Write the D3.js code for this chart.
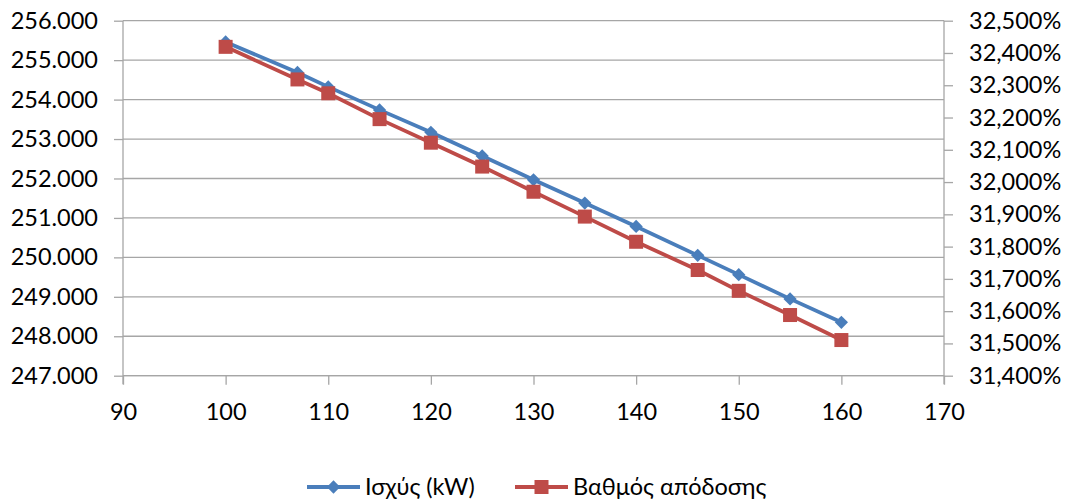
<!DOCTYPE html>
<html>
<head>
<meta charset="utf-8">
<script src="https://cdn.jsdelivr.net/npm/d3@7"></script>
<style>
  html, body { margin: 0; padding: 0; background: #fff; }
  svg { display: block; }
  text { font-family: Lato, "Open Sans", sans-serif; fill: #000; }
</style>
</head>
<body>
<svg id="chart" width="1069" height="501"></svg>
<script>
// Load (x axis), power output in kW (left axis), efficiency in % (right axis)
const loads = [100, 107, 110, 115, 120, 125, 130, 135, 140, 146, 150, 155, 160];
const power = [255461, 254689, 254322, 253739, 253170, 252570, 251967, 251377, 250785, 250051, 249562, 248947, 248354];
const efficiency = [32.419, 32.318, 32.275, 32.195, 32.122, 32.048, 31.970, 31.893, 31.815, 31.7275, 31.663, 31.588, 31.5105];

const xTicks = [90, 100, 110, 120, 130, 140, 150, 160, 170];
const powerTicks = [247000, 248000, 249000, 250000, 251000, 252000, 253000, 254000, 255000, 256000];
const effTicks = [31.4, 31.5, 31.6, 31.7, 31.8, 31.9, 32.0, 32.1, 32.2, 32.3, 32.4, 32.5];

const seriesNames = ["Ισχύς (kW)", "Βαθμός απόδοσης"];
const colors = ["#4A7EBB", "#BE4B48"];

// Greek number conventions: "." groups thousands, "," marks decimals
const locale = d3.formatLocale({ decimal: ",", thousands: ".", grouping: [3], currency: ["€", ""] });
const fmtPower = locale.format(",.0f");
const fmtEff = locale.format(".3f");

const svg = d3.select("#chart");
const plotLeft = 123, plotRight = 944, plotTop = 20.7, plotBottom = 375.7;
const fontSize = 23.5;

const x = d3.scaleLinear().domain([90, 170]).range([plotLeft, plotRight]);
const yL = d3.scaleLinear().domain([247000, 256000]).range([plotBottom, plotTop]);
const yR = d3.scaleLinear().domain([31.4, 32.5]).range([plotBottom, plotTop]);

const gridColor = "#A6A6A6";

// horizontal gridlines
svg.append("g")
  .selectAll("line")
  .data(powerTicks)
  .join("line")
  .attr("x1", plotLeft).attr("x2", plotRight)
  .attr("y1", d => yL(d)).attr("y2", d => yL(d))
  .attr("stroke", gridColor).attr("stroke-width", 1.3);

// left axis
const axL = svg.append("g")
  .attr("transform", `translate(${plotLeft},0)`)
  .call(d3.axisLeft(yL).tickValues(powerTicks).tickSize(9).tickPadding(16).tickFormat(fmtPower));
// bottom axis
const axB = svg.append("g")
  .attr("transform", `translate(0,${plotBottom})`)
  .call(d3.axisBottom(x).tickValues(xTicks).tickSize(9).tickPadding(19).tickFormat(d3.format("d")));
// right axis
const axR = svg.append("g")
  .attr("transform", `translate(${plotRight},0)`)
  .call(d3.axisRight(yR).tickValues(effTicks).tickSize(9).tickPadding(16).tickFormat(d => fmtEff(d) + "%"));

[axL, axB, axR].forEach(g => {
  g.select(".domain").attr("stroke", gridColor).attr("stroke-width", 1.3);
  g.selectAll(".tick line").attr("stroke", gridColor).attr("stroke-width", 1.3);
  g.selectAll(".tick text").attr("font-size", fontSize).attr("font-family", "Lato, 'Open Sans', sans-serif").attr("fill", "#000");
});
axL.select(".domain").attr("d", `M0,${plotTop}V${plotBottom + 8.5}`);
axR.select(".domain").attr("d", `M0,${plotTop}V${plotBottom + 8.5}`);
axB.select(".domain").attr("d", `M${plotLeft},0H${plotRight}`);

// diamond marker: a square turned 45 degrees
const diamond = d3.symbol(d3.symbolSquare, 88)();

// series lines
const linePower = d3.line().x((d, i) => x(loads[i])).y(d => yL(d));
const lineEff = d3.line().x((d, i) => x(loads[i])).y(d => yR(d));

svg.append("path").datum(power).attr("d", linePower)
  .attr("fill", "none").attr("stroke", colors[0]).attr("stroke-width", 3.8).attr("stroke-linejoin", "round");
svg.append("g").selectAll("path").data(power).join("path")
  .attr("d", diamond)
  .attr("transform", (d, i) => `translate(${x(loads[i])},${yL(d)}) rotate(45)`)
  .attr("fill", colors[0]);

svg.append("path").datum(efficiency).attr("d", lineEff)
  .attr("fill", "none").attr("stroke", colors[1]).attr("stroke-width", 3.8).attr("stroke-linejoin", "round");
svg.append("g").selectAll("rect").data(efficiency).join("rect")
  .attr("x", (d, i) => x(loads[i]) - 7).attr("y", d => yR(d) - 7)
  .attr("width", 14).attr("height", 14)
  .attr("fill", colors[1]);

// legend
const legend = svg.append("g").attr("transform", "translate(0,487)");
const legendItems = [
  { name: seriesNames[0], color: colors[0], x0: 307, shape: "diamond" },
  { name: seriesNames[1], color: colors[1], x0: 515, shape: "square" }
];
legendItems.forEach(it => {
  legend.append("line").attr("x1", it.x0).attr("x2", it.x0 + 53).attr("y1", 0).attr("y2", 0)
    .attr("stroke", it.color).attr("stroke-width", 3.8);
  if (it.shape === "diamond") {
    legend.append("path").attr("d", diamond)
      .attr("transform", `translate(${it.x0 + 26.5},0) rotate(45)`).attr("fill", it.color);
  } else {
    legend.append("rect").attr("x", it.x0 + 26.5 - 7).attr("y", -7).attr("width", 14).attr("height", 14).attr("fill", it.color);
  }
  legend.append("text").attr("x", it.x0 + 58).attr("y", 0).attr("dy", "0.36em")
    .attr("font-size", fontSize).text(it.name);
});
</script>
</body>
</html>
